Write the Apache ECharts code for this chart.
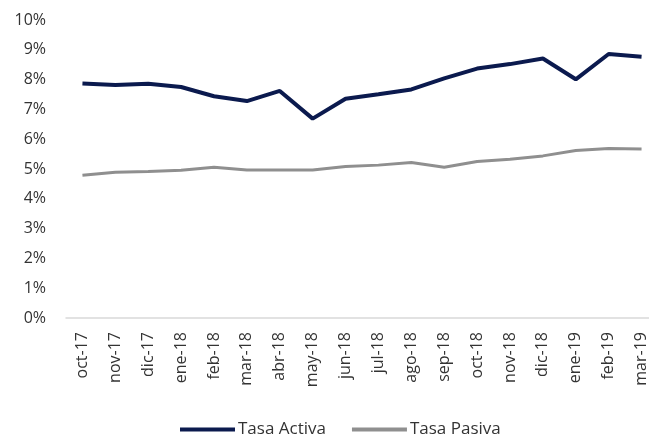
<!DOCTYPE html>
<html>
<head>
<meta charset="utf-8">
<script src="https://cdn.jsdelivr.net/npm/echarts@6/dist/echarts.min.js"></script>
<style>
  html, body { margin: 0; padding: 0; background: #fff; }
  #chart { width: 649px; height: 444px; }
</style>
</head>
<body>
<div id="chart"></div>
<script>
// tasas de interés mensuales
const meses = ['oct-17', 'nov-17', 'dic-17', 'ene-18', 'feb-18', 'mar-18', 'abr-18', 'may-18', 'jun-18',
    'jul-18', 'ago-18', 'sep-18', 'oct-18', 'nov-18', 'dic-18', 'ene-19', 'feb-19', 'mar-19'];
const tasaActiva = [7.87, 7.82, 7.86, 7.75, 7.44, 7.28, 7.62, 6.69, 7.36,
    7.51, 7.67, 8.04, 8.37, 8.52, 8.71, 8.01, 8.86, 8.77];
const tasaPasiva = [4.79, 4.89, 4.92, 4.96, 5.06, 4.97, 4.97, 4.97, 5.08,
    5.13, 5.22, 5.06, 5.25, 5.33, 5.44, 5.62, 5.69, 5.67];

const chart = echarts.init(document.getElementById('chart'));
const font = '"Open Sans", sans-serif';

const option = {
    animation: false,
    textStyle: { fontFamily: font },
    grid: { left: 66, top: 20, width: 592, height: 298, outerBoundsMode: 'none' },
    legend: {
        bottom: 1,
        left: 175,
        itemWidth: 55,
        itemHeight: 4,
        itemGap: 26,
        textStyle: { fontSize: 17, color: '#333', padding: [0, 0, 0, -2] },
        data: [
            { name: 'Tasa Activa', icon: 'rect', itemStyle: { color: '#0b1a4e' } },
            { name: 'Tasa Pasiva', icon: 'rect', itemStyle: { color: '#8f8f8f' } }
        ]
    },
    xAxis: {
        type: 'category',
        data: meses,
        boundaryGap: true,
        axisLine: { lineStyle: { color: '#d9d9d9', width: 1.5 } },
        axisTick: { show: false },
        axisLabel: { rotate: 90, margin: 14, fontSize: 16, color: '#333', interval: 0 }
    },
    yAxis: {
        type: 'value',
        min: 0,
        max: 10,
        interval: 1,
        splitLine: { show: false },
        axisLabel: { formatter: '{value}%', fontSize: 16, color: '#333', margin: 20 }
    },
    series: [
        {
            name: 'Tasa Activa',
            type: 'line',
            data: tasaActiva,
            symbol: 'none',
            lineStyle: { color: '#0b1a4e', width: 4 },
            itemStyle: { color: '#0b1a4e' }
        },
        {
            name: 'Tasa Pasiva',
            type: 'line',
            data: tasaPasiva,
            symbol: 'none',
            lineStyle: { color: '#8f8f8f', width: 3 },
            itemStyle: { color: '#8f8f8f' }
        }
    ]
};

chart.setOption(option);
</script>
</body>
</html>
